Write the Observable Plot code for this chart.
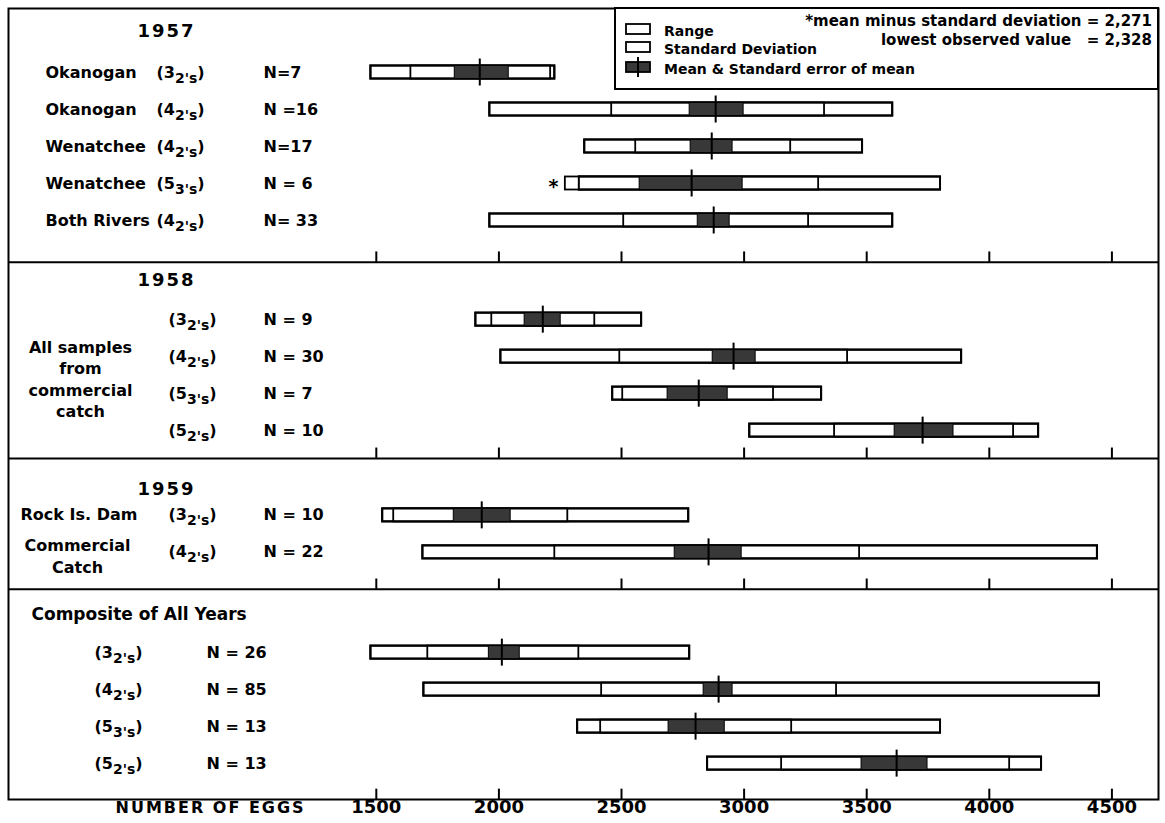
<!DOCTYPE html>
<html><head><meta charset="utf-8">
<script src="https://cdn.jsdelivr.net/npm/d3@7"></script>
<script src="https://cdn.jsdelivr.net/npm/@observablehq/plot@0.6"></script>
<style>
body{margin:0;background:#fff;}
#chart svg{display:block;}
</style></head><body><div id="chart"></div>
<script>
// ---------------- DATA ----------------
const groups = ["1957", "1958", "1959", "Composite of All Years"];
const groupSideLabel = ["", "All samples\nfrom\ncommercial\ncatch", "Commercial\nCatch", ""];
const groupSideRows = [[], [1, 2], [1], []]; // rows (within group) the side label sits beside

const rowGroup = [0,0,0,0,0, 1,1,1,1, 2,2, 3,3,3,3];
const rowName  = ["Okanogan","Okanogan","Wenatchee","Wenatchee","Both Rivers", "","","","", "Rock Is. Dam","", "","","",""];
const rowAgeMain = ["3","4","4","5","4", "3","4","5","5", "3","4", "3","4","5","5"];
const rowAgeSub  = ["2's","2's","2's","3's","2's", "2's","2's","3's","2's", "2's","2's", "2's","2's","3's","2's"];
const rowN = ["N=7","N =16","N=17","N = 6","N= 33", "N = 9","N = 30","N = 7","N = 10", "N = 10","N = 22", "N = 26","N = 85","N = 13","N = 13"];
const rowStar = [false,false,false,true,false, false,false,false,false, false,false, false,false,false,false];

const rangeMin = [1478,1963,2350,2328,1963, 1906,2008,2464,3023, 1526,1690, 1478,1694,2321,2851];
const sdLow    = [1641,2460,2558,2271,2509, 1971,2493,2505,3369, 1571,2228, 1710,2419,2415,3153];
const seLow    = [1820,2778,2782,2574,2811, 2105,2872,2688,3614, 1816,2717, 1959,2835,2692,3479];
const meanVal  = [1922,2884,2868,2786,2876, 2179,2957,2815,3728, 1930,2855, 2012,2896,2802,3622];
const seHigh   = [2040,2998,2953,2994,2941, 2252,3047,2933,3854, 2048,2990, 2085,2953,2921,3748];
const sdHigh   = [2211,3328,3190,3304,3263, 2391,3422,3120,4099, 2281,3471, 2326,3377,3194,4083];
const rangeMax = [2228,3606,3483,3801,3606, 2582,3887,3316,4201, 2774,4441, 2778,4449,3801,4213];

const tickValues = [1500, 2000, 2500, 3000, 3500, 4000, 4500];
const axisTitle = "NUMBER OF EGGS";
const legendItems = ["Range", "Standard Deviation", "Mean & Standard error of mean"];
const footnotes = ["*mean minus standard deviation = 2,271", "lowest observed value   = 2,328"];

// ---------------- LAYOUT (row units) ----------------
const layout = [
  {titleGap: 0.62, headGap: 1.11, tailGap: 1.13, titleX: 137, nameX: 45, ageX: 156, nX: 263, sideX: 0},
  {titleGap: 0.49, headGap: 1.06, tailGap: 0.75, titleX: 137, nameX: 45, ageX: 168, nX: 263, sideX: 80},
  {titleGap: 0.84, headGap: 0.70, tailGap: 1.00, titleX: 137, nameX: 20, ageX: 168, nX: 263, sideX: 77},
  {titleGap: 0.68, headGap: 1.03, tailGap: 0.97, titleX: 31,  nameX: 45, ageX: 94,  nX: 206, sideX: 0}
];
const rowStep = 1, halfBar = 0.176, halfMean = 0.365, tickLen = 0.28;

const titleY = [], dividerY = [], rowY = [];
let cursor = 0;
groups.forEach((g, gi) => {
  const L = layout[gi];
  titleY[gi] = cursor + L.titleGap;
  let y = titleY[gi] + L.headGap, last = y;
  rowGroup.forEach((rg, i) => { if (rg === gi) { rowY[i] = y; last = y; y += rowStep; } });
  cursor = last + L.tailGap;
  dividerY[gi] = cursor;
});
const totalUnits = cursor;

const rows = rowGroup.map((g, i) => ({
  g, y: rowY[i], name: rowName[i], age: `(${rowAgeMain[i]}~${rowAgeSub[i]}~)`, n: rowN[i], star: rowStar[i],
  min: rangeMin[i], sdlo: sdLow[i], selo: seLow[i], mean: meanVal[i], sehi: seHigh[i], sdhi: sdHigh[i], max: rangeMax[i]
}));
const tickData = dividerY.flatMap(d => tickValues.map(v => ({v, y: d})));

const FONT = "DejaVu Sans";
const txt = {fill: "black", fontWeight: "bold", fontSize: 16};

const marks = [
  Plot.frame({stroke: "black", strokeWidth: 2}),
  Plot.ruleY(dividerY.slice(0, -1), {stroke: "black", strokeWidth: 2}),
  Plot.ruleX(tickData, {x: "v", y1: "y", y2: d => d.y - tickLen, stroke: "black", strokeWidth: 2}),
  // range box
  Plot.rect(rows, {x1: "min", x2: "max", y1: d => d.y - halfBar, y2: d => d.y + halfBar, fill: "white", stroke: "black", strokeWidth: 2}),
  // standard deviation box
  Plot.rect(rows, {x1: "sdlo", x2: "sdhi", y1: d => d.y - halfBar, y2: d => d.y + halfBar, fill: "white", stroke: "black", strokeWidth: 1.8}),
  // range outline again (visible edges)
  Plot.rect(rows, {x1: "min", x2: "max", y1: d => d.y - halfBar, y2: d => d.y + halfBar, fill: "none", stroke: "black", strokeWidth: 2}),
  // standard error
  Plot.rect(rows, {x1: "selo", x2: "sehi", y1: d => d.y - halfBar, y2: d => d.y + halfBar, fill: "#383838", stroke: "black", strokeWidth: 1}),
  // mean
  Plot.ruleX(rows, {x: "mean", y1: d => d.y - halfMean, y2: d => d.y + halfMean, stroke: "black", strokeWidth: 2}),
  // asterisk
  Plot.text(rows.filter(d => d.star), {x: "sdlo", y: "y", text: () => "*", dx: -7, dy: 3, textAnchor: "end", ...txt, fontSize: 19}),
  // tick labels
  Plot.text(tickValues, {x: d => d, text: d => String(d), frameAnchor: "bottom", dy: 13, ...txt, fontSize: 18}),
  Plot.text([axisTitle], {text: d => d, frameAnchor: "bottom-left", dx: 107, dy: 13, textAnchor: "start", ...txt, fontSize: 16})
];

groups.forEach((g, gi) => {
  const L = layout[gi];
  const gr = rows.filter(d => d.g === gi);
  marks.push(Plot.text([g], {y: () => titleY[gi], text: d => d, frameAnchor: "left", dx: L.titleX - 8, textAnchor: "start", ...txt, fontSize: gi < 3 ? 18 : 17}));
  marks.push(Plot.text(gr.filter(d => d.name), {y: "y", text: "name", frameAnchor: "left", dx: L.nameX - 8, textAnchor: "start", ...txt}));
  marks.push(Plot.text(gr, {y: "y", text: "age", frameAnchor: "left", dx: L.ageX - 8, textAnchor: "start", ...txt}));
  marks.push(Plot.text(gr, {y: "y", text: "n", frameAnchor: "left", dx: L.nX - 8, textAnchor: "start", ...txt}));
  if (groupSideLabel[gi]) {
    const ys = groupSideRows[gi].map(k => gr[k].y);
    const yc = d3.mean(ys) + 0.08;
    marks.push(Plot.text([groupSideLabel[gi]], {y: () => yc, text: d => d, frameAnchor: "left", dx: L.sideX - 8, textAnchor: "middle", lineHeight: 1.35, ...txt}));
  }
});

const plot = Plot.plot({
  width: 1165, height: 823,
  marginLeft: 8, marginRight: 7, marginTop: 8, marginBottom: 24,
  style: {fontFamily: FONT, background: "white"},
  x: {domain: [0, 4690], axis: null},
  y: {domain: [0, totalUnits], reverse: true, axis: null},
  marks
});

// subscripts and letter spacing
const NS = "http://www.w3.org/2000/svg";
plot.querySelectorAll("text").forEach(t => {
  const s = t.textContent;
  if (s.includes("~")) {
    const [a, b, c] = s.split("~");
    t.textContent = "";
    const t1 = document.createElementNS(NS, "tspan"); t1.textContent = a; t.appendChild(t1);
    const t2 = document.createElementNS(NS, "tspan"); t2.setAttribute("dy", "5"); t2.setAttribute("font-size", "14"); t2.textContent = b; t.appendChild(t2);
    const t3 = document.createElementNS(NS, "tspan"); t3.setAttribute("dy", "-5"); t3.textContent = c; t.appendChild(t3);
  }
  if (s === axisTitle) t.setAttribute("letter-spacing", "2");
  if (groups.slice(0, 3).includes(s)) t.setAttribute("letter-spacing", "2");
});

// legend box
const svg = d3.select(plot);
const lg = svg.append("g").attr("font-family", FONT).attr("font-weight", "bold").attr("font-size", 14)
  .attr("text-anchor", "start").attr("fill", "black");
lg.append("rect").attr("x", 615).attr("y", 8).attr("width", 543).attr("height", 81)
  .attr("fill", "white").attr("stroke", "black").attr("stroke-width", 2);
const symY = [29, 47, 67];
legendItems.forEach((label, i) => {
  lg.append("rect").attr("x", 626).attr("y", symY[i] - 5).attr("width", 24).attr("height", 10)
    .attr("fill", i === 2 ? "#383838" : "white").attr("stroke", "black").attr("stroke-width", 1.8);
  if (i === 2) lg.append("line").attr("x1", 638).attr("x2", 638).attr("y1", symY[i] - 10).attr("y2", symY[i] + 10)
    .attr("stroke", "black").attr("stroke-width", 2);
  lg.append("text").attr("x", 664).attr("y", symY[i] + 2).attr("dy", "0.35em").attr("text-anchor", "start").text(label);
});
footnotes.forEach((f, i) => {
  lg.append("text").attr("x", 1152).attr("y", 21 + i * 19).attr("dy", "0.35em").attr("font-size", 15)
    .attr("text-anchor", "end").text(f);
});

document.getElementById("chart").appendChild(plot);
</script></body></html>
